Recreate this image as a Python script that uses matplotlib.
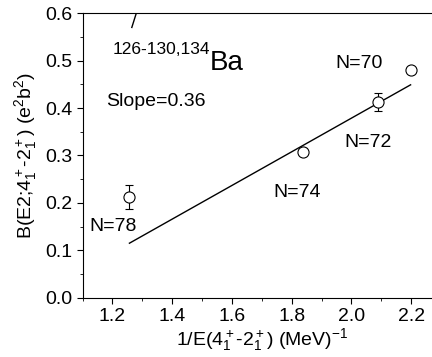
import numpy as np
import matplotlib
matplotlib.use("Agg")
import matplotlib.pyplot as plt
from matplotlib.ticker import MultipleLocator, FormatStrFormatter

plt.rcParams['font.family'] = ['Liberation Sans', 'DejaVu Sans']
plt.rcParams['mathtext.fontset'] = 'custom'
plt.rcParams['mathtext.rm'] = 'Liberation Sans'
plt.rcParams['mathtext.it'] = 'Liberation Sans'

# measured points
inv_e = [2.20, 2.088, 1.837, 1.257]
be2 = [0.480, 0.413, 0.308, 0.212]
be2_err = [0.0, 0.019, 0.007, 0.025]
n_labels = ["N=70", "N=72", "N=74", "N=78"]
label_x = [1.946, 1.975, 1.74, 1.122]
label_y = [0.485, 0.317, 0.212, 0.14]

# linear fit line (slope 0.36)
fit_x = [1.257, 2.198]
fit_y = [0.115, 0.449]

fig = plt.figure(figsize=(4.32, 3.57), dpi=100)
ax = fig.add_axes([0.191, 0.166, 0.83, 0.797])

ax.plot(fit_x, fit_y, color='black', lw=1.0)
ax.errorbar(inv_e, be2, yerr=be2_err, fmt='o', mfc='white', mec='black',
            ms=8, ecolor='black', elinewidth=0.8, capsize=3, capthick=0.8,
            mew=0.8)

ax.set_xlim(1.1, 2.3)
ax.set_ylim(0.0, 0.6)
ax.xaxis.set_major_locator(MultipleLocator(0.2))
ax.xaxis.set_minor_locator(MultipleLocator(0.1))
ax.yaxis.set_major_locator(MultipleLocator(0.1))
ax.yaxis.set_minor_locator(MultipleLocator(0.05))
ax.xaxis.set_major_formatter(FormatStrFormatter('%.1f'))
ax.yaxis.set_major_formatter(FormatStrFormatter('%.1f'))
ax.tick_params(which='major', direction='out', length=4, labelsize=14,
               top=False, right=False)
ax.tick_params(which='minor', direction='out', length=2.5,
               top=False, right=False)

ax.set_xlabel(r"1/E(4$_1^+$-2$_1^+$) (MeV)$^{-1}$", fontsize=14, labelpad=1)
ax.set_ylabel(r"B(E2;4$_1^+$-2$_1^+$) (e$^2$b$^2$)", fontsize=14, labelpad=4)

ax.text(1.527, 0.514, "126-130,134", fontsize=12.5, ha='right', va='baseline')
ax.text(1.527, 0.48, "Ba", fontsize=20, ha='left', va='baseline')
ax.text(1.18, 0.404, "Slope=0.36", fontsize=14)
ax.plot([1.265, 1.28], [0.57, 0.6], color='black', lw=1.0)

for lx, ly, lab in zip(label_x, label_y, n_labels):
    ax.text(lx, ly, lab, fontsize=14)

fig.savefig("out.png", dpi=100)
